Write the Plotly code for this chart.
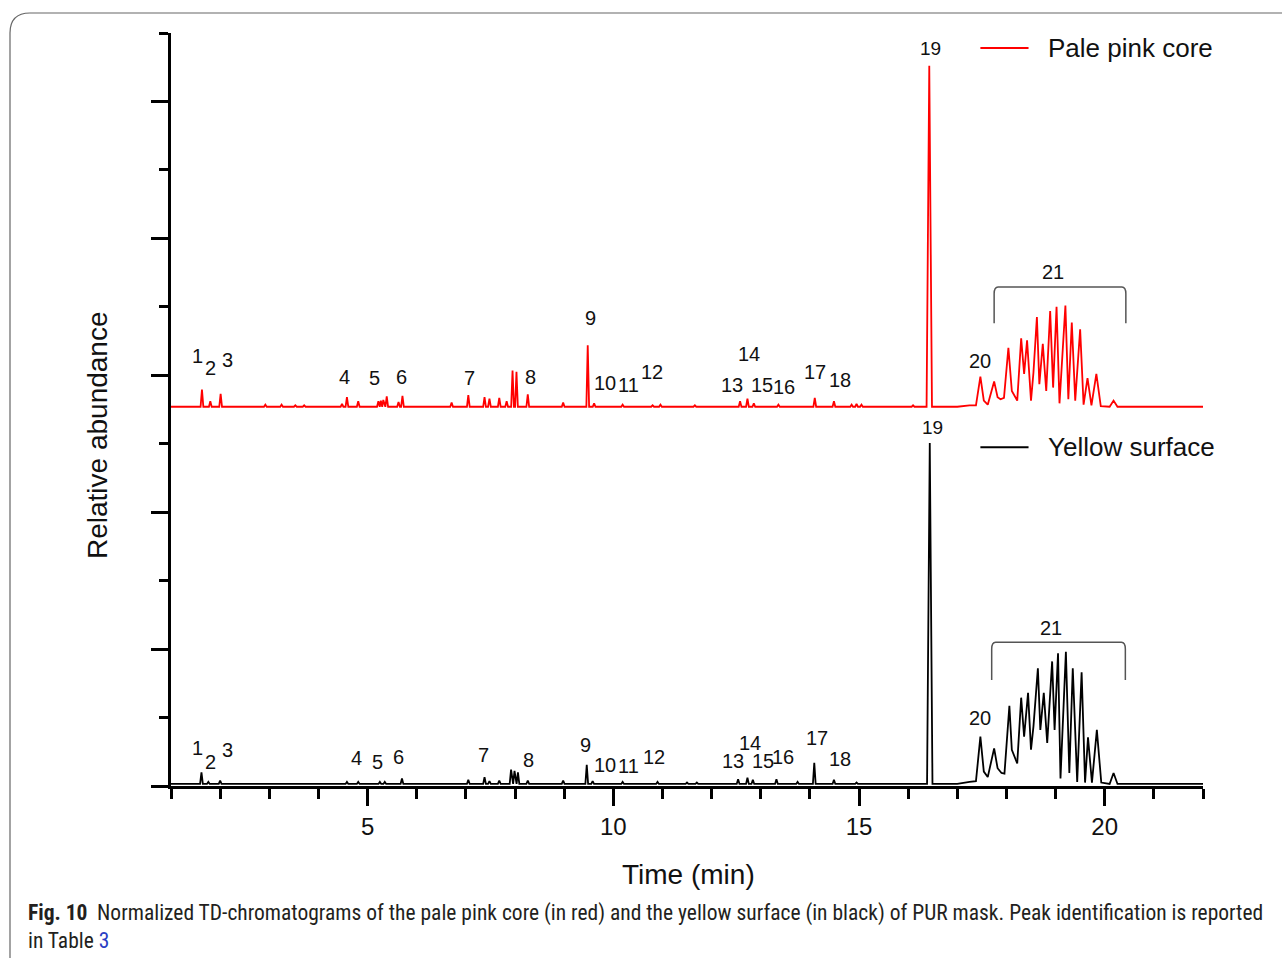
import plotly.graph_objects as go

# ---------------- data ----------------
# Isolated peaks: retention time (min) and normalized height
red_spike_time = [1.63, 1.80, 2.01, 2.92, 3.25, 3.53, 3.71, 4.48, 4.58, 4.81, 5.22, 5.27, 5.32, 5.39,
                  5.63, 5.71, 6.71, 7.05, 7.38, 7.48, 7.68, 7.83, 7.95, 8.03, 8.26, 8.98, 9.48, 9.61,
                  10.19, 10.80, 10.96, 11.66, 12.58, 12.73, 12.86, 13.36, 14.10, 14.49, 14.85, 14.95,
                  15.05, 16.10, 16.43]
red_spike_height = [0.25, 0.08, 0.19, 0.03, 0.03, 0.02, 0.02, 0.04, 0.14, 0.08, 0.08, 0.09, 0.10, 0.15,
                    0.07, 0.16, 0.06, 0.17, 0.14, 0.12, 0.13, 0.08, 0.53, 0.51, 0.18, 0.06, 0.90, 0.05,
                    0.03, 0.02, 0.03, 0.02, 0.08, 0.12, 0.05, 0.03, 0.13, 0.08, 0.03, 0.04,
                    0.03, 0.02, 4.98]

black_spike_time = [1.62, 1.76, 2.00, 4.58, 4.81, 5.25, 5.35, 5.70, 7.05, 7.38, 7.48, 7.68, 7.92, 7.99,
                    8.06, 8.26, 8.98, 9.46, 9.58, 10.19, 10.90, 11.50, 11.70, 12.54, 12.73, 12.84,
                    13.32, 13.75, 14.09, 14.49, 14.95, 16.44]
black_spike_height = [0.17, 0.03, 0.05, 0.03, 0.03, 0.03, 0.03, 0.08, 0.06, 0.10, 0.04, 0.05, 0.21, 0.19,
                      0.17, 0.05, 0.05, 0.28, 0.04, 0.03, 0.03, 0.02, 0.02, 0.07, 0.09, 0.06,
                      0.07, 0.03, 0.31, 0.06, 0.02, 4.98]

# Peak 20 / cluster 21 region: profile points (time, normalized intensity)
red_cluster_time = [17.00, 17.25, 17.38, 17.47, 17.54, 17.62, 17.75, 17.82, 17.88, 17.95, 18.04, 18.11,
                    18.18, 18.22, 18.30, 18.36, 18.42, 18.50, 18.55, 18.62, 18.67, 18.74, 18.81, 18.89,
                    18.95, 19.02, 19.08, 19.20, 19.26, 19.33, 19.40, 19.50, 19.57, 19.65, 19.73, 19.83,
                    19.92, 20.10, 20.18, 20.26, 20.50]
red_cluster_value = [0.00, 0.02, 0.02, 0.44, 0.09, 0.03, 0.37, 0.14, 0.11, 0.13, 0.86, 0.23,
                     0.14, 0.09, 1.00, 0.48, 0.97, 0.09, 0.50, 1.31, 0.33, 0.92, 0.23, 1.40,
                     0.28, 1.46, 0.05, 1.48, 0.11, 1.23, 0.09, 1.13, 0.03, 0.42, 0.02, 0.48,
                     0.01, 0.00, 0.09, 0.00, 0.00]

black_cluster_time = [17.00, 17.25, 17.38, 17.47, 17.54, 17.62, 17.75, 17.82, 17.90, 17.96, 18.06, 18.11,
                      18.16, 18.22, 18.30, 18.36, 18.44, 18.50, 18.55, 18.64, 18.69, 18.76, 18.83, 18.93,
                      18.98, 19.05, 19.10, 19.21, 19.28, 19.35, 19.44, 19.53, 19.60, 19.66, 19.74, 19.84,
                      19.93, 20.10, 20.18, 20.26, 20.50]
black_cluster_value = [0.00, 0.03, 0.04, 0.69, 0.18, 0.10, 0.52, 0.23, 0.16, 0.15, 1.14, 0.50,
                       0.40, 0.30, 1.26, 0.69, 1.33, 0.50, 0.84, 1.69, 0.79, 1.33, 0.60, 1.79,
                       0.79, 1.91, 0.08, 1.93, 0.16, 1.69, 0.03, 1.63, 0.02, 0.68, 0.02, 0.79,
                       0.02, 0.00, 0.16, 0.00, 0.00]

series_names = ["Pale pink core", "Yellow surface"]
peak_labels = [str(i) for i in range(1, 22)]

# ---------------- layout / style ----------------
W, H = 1282, 958
ML, MR, MT, MB = 171, 79, 33, 172
X_RANGE = [1, 22]
Y_RANGE = [0, 11]
RED_OFFSET = 5.54
BLACK_OFFSET = 0.03
RED = "#ff0000"
BLACK = "#000000"
TEXT = "#111111"
FONT = "Liberation Sans, Arial, sans-serif"


def build_profile(spike_t, spike_h, cl_t, cl_v, offset):
    pts = [(X_RANGE[0], 0.0), (X_RANGE[1], 0.0)]
    for t, h in zip(spike_t, spike_h):
        w = 0.055 if h > 1 else 0.028
        pts += [(t - w, 0.0), (t, h), (t + w, 0.0)]
    pts += list(zip(cl_t, cl_v))
    pts.sort(key=lambda p: p[0])
    return [p[0] for p in pts], [p[1] + offset for p in pts]


rx, ry = build_profile(red_spike_time, red_spike_height, red_cluster_time, red_cluster_value, RED_OFFSET)
bx, by = build_profile(black_spike_time, black_spike_height, black_cluster_time, black_cluster_value, BLACK_OFFSET)

fig = go.Figure()
fig.add_trace(go.Scatter(x=rx, y=ry, mode="lines", name=series_names[0],
                         line=dict(color=RED, width=1.8), showlegend=False))
fig.add_trace(go.Scatter(x=bx, y=by, mode="lines", name=series_names[1],
                         line=dict(color=BLACK, width=1.8), showlegend=False))

# plot-area geometry helpers (pixel -> paper)
PW = W - ML - MR
PH = H - MT - MB


def px(xp):
    return (xp - ML) / PW


def py(yp):
    return (H - MB - yp) / PH


annotations = []

# peak labels (data coordinates)
red_label_pos = [(1.54, 6.28), (1.80, 6.11), (2.14, 6.22), (4.54, 5.97), (5.15, 5.96), (5.70, 5.97),
                 (7.07, 5.96), (8.31, 5.97), (9.53, 6.84), (9.84, 5.89), (10.31, 5.86), (10.78, 6.05),
                 (12.42, 5.86), (12.77, 6.31), (13.02, 5.86), (13.48, 5.83), (14.11, 6.05), (14.62, 5.93),
                 (16.45, 10.77), (17.47, 6.21), (18.95, 7.51)]
black_label_pos = [(1.54, 0.56), (1.80, 0.35), (2.15, 0.53), (4.78, 0.41), (5.20, 0.35), (5.63, 0.42),
                   (7.36, 0.45), (8.28, 0.38), (9.43, 0.60), (9.83, 0.31), (10.31, 0.29), (10.82, 0.42),
                   (12.43, 0.37), (12.79, 0.63), (13.04, 0.37), (13.45, 0.42), (14.14, 0.70), (14.62, 0.39),
                   (16.49, 5.23), (17.47, 0.99), (18.90, 2.31)]
for lab, (x, y) in zip(peak_labels, red_label_pos):
    annotations.append(dict(x=x, y=y, xref="x", yref="y", text=lab, showarrow=False,
                            font=dict(family=FONT, size=19 if lab == "19" else 20, color=TEXT),
                            xanchor="center", yanchor="middle"))
for lab, (x, y) in zip(peak_labels, black_label_pos):
    annotations.append(dict(x=x, y=y, xref="x", yref="y", text=lab, showarrow=False,
                            font=dict(family=FONT, size=19 if lab == "19" else 20, color=TEXT),
                            xanchor="center", yanchor="middle"))

# legend texts
annotations.append(dict(x=18.81, y=10.78, xref="x", yref="y", text=series_names[0], showarrow=False,
                        font=dict(family=FONT, size=26, color=TEXT), xanchor="left", yanchor="middle"))
annotations.append(dict(x=18.81, y=4.95, xref="x", yref="y", text=series_names[1], showarrow=False,
                        font=dict(family=FONT, size=26, color=TEXT), xanchor="left", yanchor="middle"))

# axis titles
annotations.append(dict(x=px(97), y=py(435), xref="paper", yref="paper", text="Relative abundance",
                        showarrow=False, textangle=-90, font=dict(family=FONT, size=28, color=TEXT),
                        xanchor="center", yanchor="middle"))
annotations.append(dict(x=px(688), y=py(875), xref="paper", yref="paper", text="Time (min)",
                        showarrow=False, font=dict(family=FONT, size=28, color=TEXT),
                        xanchor="center", yanchor="middle"))

# caption
CAP_FONT = "Liberation Sans Narrow, Arial Narrow, Roboto Condensed, Liberation Sans, sans-serif"
annotations.append(dict(x=px(26), y=py(913), xref="paper", yref="paper", align="left",
                        text="<b>Fig. 10</b>\u2002Normalized TD-chromatograms of the pale pink core (in red) and the "
                             "yellow surface (in black) of PUR mask. Peak identification is reported",
                        showarrow=False, font=dict(family=CAP_FONT, size=21.5, color="#231f20"),
                        xanchor="left", yanchor="middle"))
annotations.append(dict(x=px(26), y=py(940), xref="paper", yref="paper", align="left",
                        text="in Table <span style='color:#2b3fc4'>3</span>",
                        showarrow=False, font=dict(family=CAP_FONT, size=21.5, color="#231f20"),
                        xanchor="left", yanchor="middle"))

shapes = []
# legend line samples
shapes.append(dict(type="line", xref="x", yref="y", x0=17.47, x1=18.45, y0=10.78, y1=10.78,
                   line=dict(color=RED, width=2)))
shapes.append(dict(type="line", xref="x", yref="y", x0=17.47, x1=18.45, y0=4.95, y1=4.95,
                   line=dict(color=BLACK, width=2)))


def bracket(x0, x1, ytop, ybot):
    r = 0.08
    rv = 0.1
    return (f"M {x0},{ybot} L {x0},{ytop - rv} Q {x0},{ytop} {x0 + r},{ytop} "
            f"L {x1 - r},{ytop} Q {x1},{ytop} {x1},{ytop - rv} L {x1},{ybot}")


shapes.append(dict(type="path", xref="x", yref="y", path=bracket(17.75, 20.43, 7.29, 6.76),
                   line=dict(color="#555555", width=1.5)))
shapes.append(dict(type="path", xref="x", yref="y", path=bracket(17.70, 20.42, 2.10, 1.55),
                   line=dict(color="#555555", width=1.5)))

# rounded border box
bx0, by0 = px(10), py(13)
rxp, ryp = 20 / PW, 20 / PH
shapes.append(dict(type="path", xref="paper", yref="paper",
                   path=(f"M {bx0},{py(970)} L {bx0},{by0 - ryp} Q {bx0},{by0} {bx0 + rxp},{by0} "
                         f"L {px(1300)},{by0}"),
                   line=dict(color="#666666", width=1.2)))

fig.update_layout(
    width=W, height=H,
    margin=dict(l=ML, r=MR, t=MT, b=MB),
    paper_bgcolor="white", plot_bgcolor="white",
    showlegend=False,
    annotations=annotations,
    shapes=shapes,
    xaxis=dict(range=X_RANGE, showgrid=False, zeroline=False, showline=True, linecolor="black",
               linewidth=2.5, ticks="outside", ticklen=17, tickwidth=2.5, tickcolor="black",
               tickmode="linear", tick0=0, dtick=5,
               minor=dict(ticks="outside", ticklen=10, tickwidth=2.5, tickcolor="black", dtick=1, tick0=0),
               tickfont=dict(family=FONT, size=24, color=TEXT)),
    yaxis=dict(range=Y_RANGE, showgrid=False, zeroline=False, showline=True, linecolor="black",
               linewidth=3, ticks="outside", ticklen=17, tickwidth=3, tickcolor="black",
               tickmode="linear", tick0=0, dtick=2, showticklabels=False,
               minor=dict(ticks="outside", ticklen=9, tickwidth=3, tickcolor="black", dtick=1, tick0=0)),
)

fig.write_html("out.html", config={"displayModeBar": False},
               post_script="document.body.style.margin='0';document.body.style.overflow='hidden';")
